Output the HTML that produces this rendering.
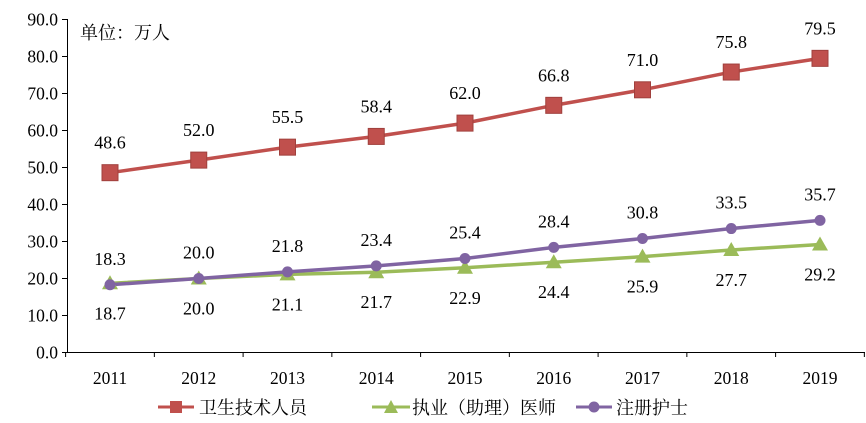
<!DOCTYPE html>
<html><head><meta charset="utf-8"><style>body{margin:0;background:#fff}svg{display:block}text{font-family:"Liberation Serif","Noto Serif CJK SC",serif;fill:#000}</style></head>
<body>
<svg width="866" height="423" viewBox="0 0 866 423" xmlns="http://www.w3.org/2000/svg">
<g stroke="#000" stroke-width="1" fill="none">
<line x1="67.5" y1="19" x2="67.5" y2="352.5"/>
<line x1="67" y1="352.5" x2="865" y2="352.5"/>
<g id="yt"></g>
</g>
<g font-size="17.5" text-anchor="end" id="ylab"></g>
<g font-size="17.5" text-anchor="middle" id="xlab"></g>
<text x="80" y="39" font-size="18" font-family="Liberation Sans,'Noto Sans CJK SC',sans-serif">单位：万人</text>
<g id="series"></g>
<g font-size="18">
<line x1="158" y1="407" x2="194" y2="407" stroke="#C0504D" stroke-width="3"/>
<rect x="170" y="401" width="12" height="12" fill="#C0504D"/>
<text x="199" y="414" font-family="Liberation Sans,'Noto Sans CJK SC',sans-serif">卫生技术人员</text>
<line x1="372" y1="407" x2="410" y2="407" stroke="#9BBB59" stroke-width="3"/>
<polygon points="391,400 398,413 384,413" fill="#9BBB59"/>
<text x="412" y="414" font-family="Liberation Sans,'Noto Sans CJK SC',sans-serif">执业（助理）医师</text>
<line x1="576" y1="407" x2="612" y2="407" stroke="#8064A2" stroke-width="3"/>
<circle cx="594" cy="407" r="5.5" fill="#8064A2"/>
<text x="616" y="414" font-family="Liberation Sans,'Noto Sans CJK SC',sans-serif">注册护士</text>
</g>
</svg>
<script>
const ns="http://www.w3.org/2000/svg";
function el(p,t,a,txt){const e=document.createElementNS(ns,t);for(const k in a)e.setAttribute(k,a[k]);if(txt!==undefined)e.textContent=txt;p.appendChild(e);return e;}
const Y=v=>352.5-3.7*v, X=i=>110+88.75*i;
const yt=document.getElementById('yt'),yl=document.getElementById('ylab'),xl=document.getElementById('xlab');
for(let v=0;v<=90;v+=10){el(yt,'line',{x1:62,x2:67,y1:Y(v),y2:Y(v)});el(yl,'text',{x:58,y:Y(v)+6},v.toFixed(1));}
for(let i=0;i<=9;i++){el(yt,'line',{x1:X(i)-44.4,x2:X(i)-44.4,y1:352,y2:357});}
for(let i=0;i<9;i++)el(xl,'text',{x:X(i),y:384},2011+i);
const s=document.getElementById('series');
const red=[48.6,52.0,55.5,58.4,62.0,66.8,71.0,75.8,79.5],grn=[18.7,20.0,21.1,21.7,22.9,24.4,25.9,27.7,29.2],pur=[18.3,20.0,21.8,23.4,25.4,28.4,30.8,33.5,35.7];
function line(d,c){el(s,'polyline',{points:d.map((v,i)=>X(i)+','+Y(v)).join(' '),fill:'none',stroke:c,'stroke-width':3.5});}
line(red,'#C0504D');line(grn,'#9BBB59');line(pur,'#8064A2');
red.forEach((v,i)=>{el(s,'rect',{x:X(i)-8,y:Y(v)-8,width:16,height:16,fill:'#C0504D',stroke:'#A0403D'});el(s,'text',{x:X(i),y:Y(v)-24,'font-size':18,'text-anchor':'middle'},v.toFixed(1));});
grn.forEach((v,i)=>{el(s,'polygon',{points:`${X(i)},${Y(v)-8} ${X(i)+8},${Y(v)+6} ${X(i)-8},${Y(v)+6}`,fill:'#9BBB59'});el(s,'text',{x:X(i),y:Y(v)+36,'font-size':18,'text-anchor':'middle'},v.toFixed(1));});
pur.forEach((v,i)=>{el(s,'circle',{cx:X(i),cy:Y(v),r:5.5,fill:'#8064A2'});el(s,'text',{x:X(i),y:Y(v)-20,'font-size':18,'text-anchor':'middle'},v.toFixed(1));});
</script>
</body></html>
